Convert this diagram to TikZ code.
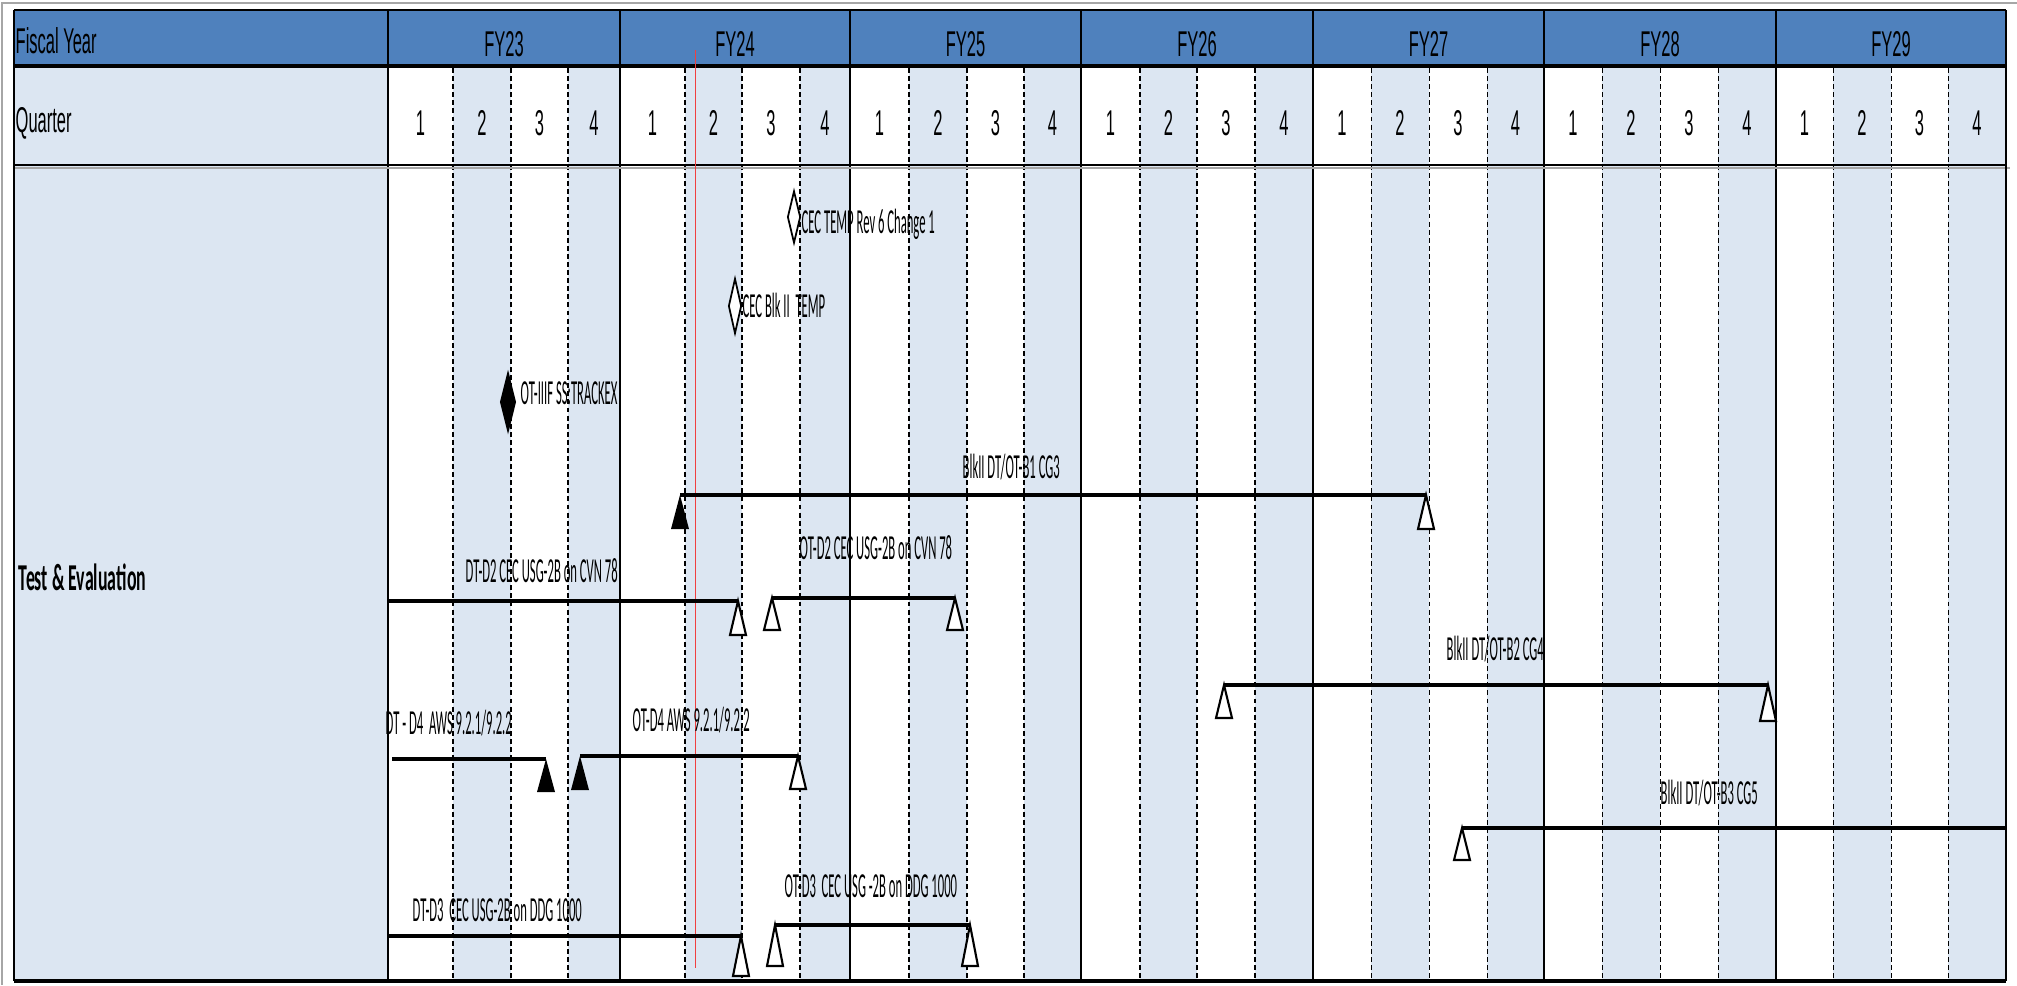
\documentclass[tikz,border=0pt]{standalone}
\usepackage{fontspec}
\usetikzlibrary{shapes.geometric}
\newfontfamily\hdrfont[FakeStretch=0.46]{Liberation Sans}
\newfontfamily\evtfont[FakeStretch=0.36]{Carlito}
\newfontfamily\tefont[FakeStretch=0.47]{Carlito}
\definecolor{fyblue}{HTML}{4F81BD}
\definecolor{qshade}{HTML}{DCE6F2}
\definecolor{gframe}{HTML}{A6A6A6}
\definecolor{nowred}{HTML}{F04040}
\tikzset{
  hdrtext/.style={font=\hdrfont\fontsize{10.2}{11}\selectfont, inner sep=0pt},
  evttext/.style={font=\evtfont\fontsize{10}{11}\selectfont, inner sep=0pt, anchor=west},
  qline/.style={line width=0.3pt, dash pattern=on 1.4pt off 0.9pt},
  yline/.style={line width=0.55pt},
  bar/.style={line width=1.05pt},
  gate/.style={diamond, draw, line width=0.5pt, inner sep=0pt, minimum width=0.13cm, minimum height=0.52cm},
  pics/opentri/.style={code={\draw[line width=0.6pt, fill=white] (0,0) -- (-8,#1) -- (8,#1) -- cycle;}},
  pics/filltri/.style={code={\fill (0,0) -- (-9,#1) -- (9,#1) -- cycle;}}
}
\begin{document}
\begin{tikzpicture}[x=0.1mm, y=-0.1mm]
\useasboundingbox (0,0) rectangle (2017,985);

% Frame and header band
\draw[gframe, line width=0.6pt] (2,985) -- (2,3) -- (2017,3);
\fill[fyblue] (14,10) rectangle (2006,64);
\fill[white] (388,68) rectangle (2006,981);
\fill[qshade] (14,68) rectangle (388,981);

% Years and quarters
\foreach \ya/\qa/\qb/\qc/\yb/\fy in {388/453/511/568/620/23, 620/685/742/800/850/24,
    850/909/967/1024/1081/25, 1081/1140/1197/1255/1313/26, 1313/1371/1429/1487/1544/27,
    1544/1602/1660/1718/1776/28, 1776/1833/1891/1948/2006/29}{
  \fill[qshade] (\qa,68) rectangle (\qb,981);
  \fill[qshade] (\qc,68) rectangle (\yb,981);
  \foreach \x in {\qa,\qb,\qc} \draw[qline] (\x,68) -- (\x,981);
  \draw[yline] (\ya,10) -- (\ya,981);
  \node[hdrtext] (fy\fy) at ({(\ya+\yb)/2},44) {FY\fy};
  \node[hdrtext] (q\fy-1) at ({(\ya+\qa)/2},123) {1};
  \node[hdrtext] (q\fy-2) at ({(\qa+\qb)/2},123) {2};
  \node[hdrtext] (q\fy-3) at ({(\qb+\qc)/2},123) {3};
  \node[hdrtext] (q\fy-4) at ({(\qc+\yb)/2},123) {4};
}

% Table rules
\draw[line width=0.4pt] (14,10) -- (2006,10);
\draw[line width=1.1pt] (14,66) -- (2006,66);
\draw[line width=0.8pt] (14,165) -- (2006,165);
\draw[gframe, line width=0.4pt] (14,168) -- (2010,168);
\draw[line width=1.1pt] (14,981) -- (2006,981);
\draw[line width=0.8pt] (14,10) -- (14,981);
\draw[line width=0.8pt] (2006,10) -- (2006,981);

% Status date
\draw[nowred, line width=0.25pt] (695,50) -- (695,968);

% Row labels
\node[hdrtext, anchor=west] (fyhead) at (15,41) {Fiscal Year};
\node[hdrtext, anchor=west] (qhead) at (15,123) {Quarter};
\node[font=\tefont\bfseries\fontsize{10.8}{12}\selectfont, inner sep=0pt, anchor=west] (te) at (18,577) {Test \& Evaluation};

% TEMP milestones
\node[gate, fill=white] (m1) at (794,217) {};
\node[evttext] (m1lab) at (801,224) {CEC TEMP Rev 6 Change 1};
\node[gate, fill=white, minimum height=0.55cm] (m2) at (735,306) {};
\node[evttext] (m2lab) at (742,305) {CEC Blk II\ \ TEMP};
\node[gate, fill=black, minimum width=0.15cm, minimum height=0.58cm] (m3) at (508,402) {};
\node[evttext] (m3lab) at (520,393) {OT-IIIF SS:TRACKEX};

% BlkII CG3
\coordinate (b1s) at (680,495); \coordinate (b1e) at (1426,495);
\draw[bar] (b1s) -- (b1e);
\pic at (b1s) {filltri=34}; \pic at (b1e) {opentri=34};
\node[evttext] (b1lab) at (962,467) {BlkII DT/OT-B1 CG3};

% DT-D2 / OT-D2
\coordinate (b2s) at (389,601); \coordinate (b2e) at (738,601);
\draw[bar] (b2s) -- (b2e);
\pic at (b2e) {opentri=34};
\node[evttext] (b2lab) at (465,571) {DT-D2 CEC USG-2B on CVN 78};
\coordinate (b3s) at (772,598); \coordinate (b3e) at (955,598);
\draw[bar] (b3s) -- (b3e);
\pic at (b3s) {opentri=32}; \pic at (b3e) {opentri=32};
\node[evttext] (b3lab) at (799,548) {OT-D2 CEC USG-2B on CVN 78};

% BlkII CG4
\coordinate (b4s) at (1224,685); \coordinate (b4e) at (1768,685);
\draw[bar] (b4s) -- (b4e);
\pic at (b4s) {opentri=33}; \pic at (b4e) {opentri=36};
\node[evttext] (b4lab) at (1446,649) {BlkII DT/OT-B2 CG4};

% DT-D4 / OT-D4
\coordinate (b6s) at (392,759); \coordinate (b6e) at (546,759);
\draw[bar] (b6s) -- (b6e);
\pic at (b6e) {filltri=33};
\node[evttext] (b6lab) at (385,723) {DT - D4\ \ AWS 9.2.1/9.2.2};
\coordinate (b7s) at (580,756); \coordinate (b7e) at (798,756);
\draw[bar] (b7s) -- (b7e);
\pic at (b7s) {filltri=34}; \pic at (b7e) {opentri=33};
\node[evttext] (b7lab) at (632,720) {OT-D4 AWS 9.2.1/9.2.2};

% BlkII CG5
\coordinate (b5s) at (1462,828); \coordinate (b5e) at (2006,828);
\draw[bar] (b5s) -- (b5e);
\pic at (b5s) {opentri=32};
\node[evttext] (b5lab) at (1660,793) {BlkII DT/OT-B3 CG5};

% DT-D3 / OT-D3
\coordinate (b8s) at (389,936); \coordinate (b8e) at (741,936);
\draw[bar] (b8s) -- (b8e);
\pic at (b8e) {opentri=40};
\node[evttext] (b8lab) at (412,910) {DT-D3\ \ CEC USG-2B on DDG 1000};
\coordinate (b9s) at (775,925); \coordinate (b9e) at (970,925);
\draw[bar] (b9s) -- (b9e);
\pic at (b9s) {opentri=41}; \pic at (b9e) {opentri=41};
\node[evttext] (b9lab) at (784,886) {OT-D3\ \ CEC USG -2B on DDG 1000};
\end{tikzpicture}
\end{document}
